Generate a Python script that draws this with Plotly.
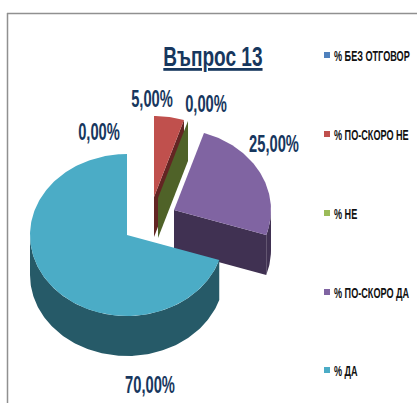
import math
import plotly.graph_objects as go

categories = ["% БЕЗ ОТГОВОР", "% ПО-СКОРО НЕ", "% НЕ", "% ПО-СКОРО ДА", "% ДА"]
values = [0, 5, 0, 25, 70]
label_texts = ["0,00%", "5,00%", "0,00%", "25,00%", "70,00%"]
top_colors = ["#4f81bd", "#c0504d", "#9bbb59", "#8064a2", "#4bacc6"]
side_colors = ["#385d8a", "#632523", "#4f6228", "#403152", "#265a68"]
apex_x = [127, 154, 158, 174, 127]
apex_y = [235, 197, 198, 210, 235]
label_x = [99, 152, 206, 274, 150]
label_y = [134, 101, 106, 146, 387]
legend_y = [57, 136, 215, 294, 372]
marker_y = [55, 134, 213, 292, 370]
draw_order = [0, 3, 1, 2, 4]

RX, RY, DEPTH = 97, 81, 40
FONT = "Liberation Sans, sans-serif"
NAVY = "#17375e"


def rim(ax, ay, a, dy=0):
    t = math.radians(a)
    return ax + RX * math.sin(t), ay - RY * math.cos(t) + dy


def arc(ax, ay, s, e, dy=0):
    n = max(2, int(abs(e - s)) + 1)
    pts = [rim(ax, ay, s + (e - s) * i / (n - 1), dy) for i in range(n)]
    return [p[0] for p in pts], [p[1] for p in pts]


def poly(xs, ys, color):
    return go.Scatter(x=xs, y=ys, mode="lines", fill="toself", fillcolor=color,
                      line=dict(width=0, color=color), hoverinfo="skip", showlegend=False)


fig = go.Figure()

angles = []
cum = 0
for v in values:
    angles.append((cum * 3.6, (cum + v) * 3.6))
    cum += v

for i in draw_order:
    s, e = angles[i]
    ax, ay = apex_x[i], apex_y[i]
    if e < 180:
        rx_, ry_ = rim(ax, ay, e)
        fig.add_trace(poly([ax, rx_, rx_, ax, ax],
                           [ay, ry_, ry_ + DEPTH, ay + DEPTH, ay], side_colors[i]))
    lo, hi = max(s, 90), min(e, 270)
    if hi > lo:
        xa, ya = arc(ax, ay, lo, hi)
        xb, yb = arc(ax, ay, lo, hi, DEPTH)
        fig.add_trace(poly(xa + xb[::-1] + xa[:1], ya + yb[::-1] + ya[:1], side_colors[i]))
    if e > s:
        xa, ya = arc(ax, ay, s, e)
        fig.add_trace(poly([ax] + xa + [ax], [ay] + ya + [ay], top_colors[i]))

fig.add_trace(go.Scatter(x=label_x, y=label_y, mode="text", text=label_texts,
                         textfont=dict(family=FONT, size=23, color="#17375e", weight="bold"),
                         textposition="middle center", hoverinfo="skip", showlegend=False))

fig.add_trace(go.Scatter(x=[327] * len(categories), y=marker_y, mode="markers",
                         marker=dict(symbol="square", size=6, color=top_colors),
                         hoverinfo="skip", showlegend=False))
fig.add_trace(go.Scatter(x=[334] * len(categories), y=legend_y, mode="text", text=categories,
                         textposition="middle right",
                         textfont=dict(family=FONT, size=14, color="#111111", weight="bold"),
                         hoverinfo="skip", showlegend=False))

fig.update_layout(
    width=417, height=403, margin=dict(l=0, r=0, t=0, b=0),
    paper_bgcolor="white", plot_bgcolor="white", showlegend=False,
    xaxis=dict(range=[0, 417], visible=False, fixedrange=True),
    yaxis=dict(range=[403, 0], visible=False, fixedrange=True),
    shapes=[
        dict(type="line", x0=7, x1=417, y0=13.5, y1=13.5, line=dict(color="#909090", width=1.5)),
        dict(type="line", x0=7.5, x1=7.5, y0=13, y1=403, line=dict(color="#909090", width=1.5)),
    ],
    annotations=[
        dict(x=213, y=56, xref="x", yref="y", showarrow=False, text="<u>Въпрос 13</u>",
             font=dict(family=FONT, size=28, color=NAVY, weight="bold")),
        dict(x=59, y=-6, xref="x", yref="y", showarrow=False, text="р",
             font=dict(family="Liberation Serif", size=20, color="#111111")),
    ],
)

# Liberation Sans stands in for the reference's condensed face: squeeze the glyphs horizontally.
post = """
document.documentElement.style.overflow='hidden';
document.body.style.margin='0';
var squeeze={'23':0.64,'28':0.68,'14':0.65};
document.querySelectorAll('svg text').forEach(function(t){
  var f=parseFloat(getComputedStyle(t).fontSize);
  var k=squeeze[String(f)];
  if(k){
    t.setAttribute('lengthAdjust','spacingAndGlyphs');
    t.setAttribute('textLength',t.getComputedTextLength()*k);
  }
});
"""
fig.write_html("out.html", config={"displayModeBar": False}, post_script=post)
